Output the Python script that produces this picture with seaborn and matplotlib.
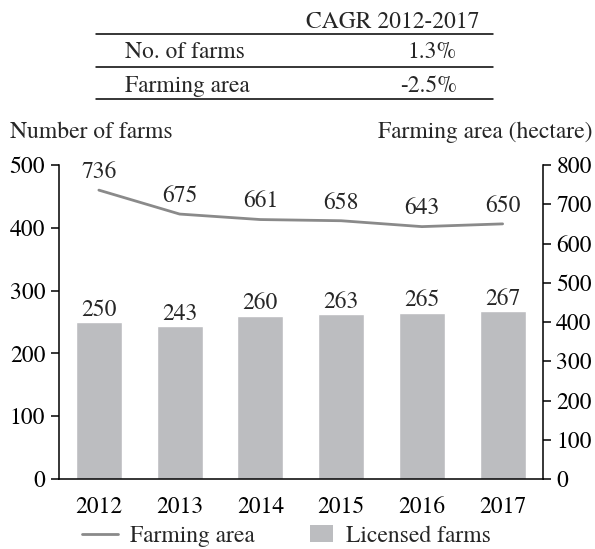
import numpy as np
import pandas as pd
import matplotlib
matplotlib.use("Agg")
import matplotlib.pyplot as plt
import seaborn as sns
from matplotlib.lines import Line2D
from matplotlib.patches import Patch, Rectangle
from matplotlib.legend_handler import HandlerPatch

years = ["2012", "2013", "2014", "2015", "2016", "2017"]
licensed_farms = [250, 243, 260, 263, 265, 267]
farming_area = [736, 675, 661, 658, 643, 650]
cagr_rows = ["No. of farms", "Farming area"]
cagr_values = ["1.3%", "-2.5%"]
cagr_header = "CAGR 2012-2017"

sns.set_theme(style="white")
plt.rcParams["font.family"] = ["TeX Gyre Termes", "STIXGeneral", "DejaVu Serif"]

BAR_COLOR = "#bcbdc0"
LINE_COLOR = "#8a8a8a"
FS = 17
W, H = 595, 549

df = pd.DataFrame({"year": years, "farms": licensed_farms, "area": farming_area})
df["pos"] = np.arange(len(years))

fig = plt.figure(figsize=(W / 100, H / 100), dpi=100)
ax = fig.add_axes([58.5 / W, 1 - 479 / H, (543 - 58.5) / W, (479 - 165) / H])

sns.barplot(data=df, x="year", y="farms", color=BAR_COLOR, width=0.57,
            saturation=1, ax=ax)
ax.set_ylim(0, 500)
ax.set_xlim(-0.5, len(years) - 0.5)
ax.set_yticks(range(0, 501, 100))
ax.set_xlabel("")
ax.set_ylabel("")

ax2 = ax.twinx()
sns.lineplot(data=df, x="pos", y="area", color=LINE_COLOR, linewidth=2.0, ax=ax2)
ax2.set_ylim(0, 800)
ax2.set_yticks(range(0, 801, 100))
ax2.set_xlim(ax.get_xlim())
ax2.set_xlabel("")
ax2.set_ylabel("")

for a in (ax, ax2):
    a.spines["top"].set_visible(False)
    for s in ("left", "right", "bottom"):
        a.spines[s].set_color("black")
        a.spines[s].set_linewidth(1.1)
ax.spines["right"].set_visible(False)
ax2.spines["left"].set_visible(False)
ax2.spines["bottom"].set_visible(False)

ax.tick_params(axis="y", left=True, direction="out", length=6, width=1.1,
               labelsize=FS, pad=3.5, colors="black")
ax.tick_params(axis="x", bottom=False, labelsize=FS, pad=6.5, colors="black")
ax2.tick_params(axis="y", right=True, direction="out", length=6, width=1.1,
                labelsize=FS, pad=3.5, colors="black")

# value labels above bars and line points
for i, v in enumerate(licensed_farms):
    ax.text(i, v + 10, f"{v}", ha="center", va="baseline", fontsize=FS)
for i, v in enumerate(farming_area):
    ax2.text(i, v + 31, f"{v}", ha="center", va="baseline", fontsize=FS)

# axis titles
fig.text(10 / W, 1 - 138 / H, "Number of farms", ha="left", va="baseline",
         fontsize=FS)
fig.text(593 / W, 1 - 138 / H, "Farming area (hectare)", ha="right",
         va="baseline", fontsize=FS)


# legend: line swatch and a small square swatch at the right of its handle box
def square_swatch(legend, orig_handle, xdescent, ydescent, width, height,
                  fontsize):
    sw, sh = 17.0, 12.5
    return Rectangle((-xdescent + width - sw, -ydescent + (height - sh) / 2),
                     sw, sh)


handles = [Line2D([0], [0], color=LINE_COLOR, linewidth=2.0),
           Patch(facecolor=BAR_COLOR, edgecolor="none")]
fig.legend(handles, ["Farming area", "Licensed farms"], loc="center left",
           bbox_to_anchor=(82 / W, 1 - 536 / H), ncol=2, frameon=False,
           fontsize=FS, handlelength=1.52, handletextpad=0.52,
           columnspacing=1.8, borderpad=0, borderaxespad=0,
           handler_map={Patch: HandlerPatch(patch_func=square_swatch)})

# CAGR table
x0, x1 = 96 / W, 493 / W
for yl in (34, 67, 99):
    fig.add_artist(Line2D([x0, x1], [1 - yl / H, 1 - yl / H],
                          color="black", linewidth=1.1))
fig.text(393 / W, 1 - 28 / H, cagr_header, ha="center", va="baseline",
         fontsize=FS)
for k, (lab, val) in enumerate(zip(cagr_rows, cagr_values)):
    yb = 1 - (58 + 34 * k) / H
    fig.text(125 / W, yb, lab, ha="left", va="baseline", fontsize=FS)
    fig.text(457 / W, yb, val, ha="right", va="baseline", fontsize=FS)

fig.savefig("out.png", dpi=100)
